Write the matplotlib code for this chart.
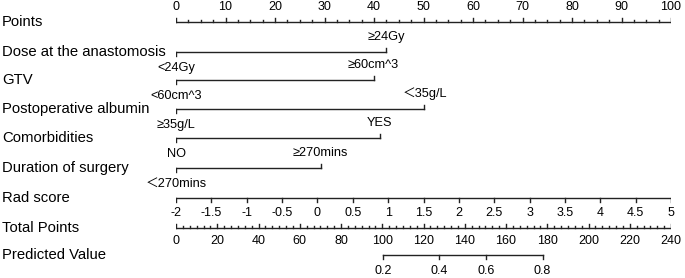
import numpy as np
import matplotlib
matplotlib.use('Agg')
import matplotlib.pyplot as plt
from matplotlib.transforms import blended_transform_factory

plt.rcParams['font.family'] = ['Liberation Sans', 'Noto Sans CJK SC', 'DejaVu Sans']

# nomogram content
row_names = ['Points', 'Dose at the anastomosis', 'GTV', 'Postoperative albumin',
             'Comorbidities', 'Duration of surgery', 'Rad score', 'Total Points',
             'Predicted Value']
row_y = [21.7, 51.7, 80, 109, 138, 168, 198, 228, 255]   # pixel rows

low_labels = ['<24Gy', '<60cm^3', '≥35g/L', 'NO', '＜270mins']
high_labels = ['≥24Gy', '≥60cm^3', '＜35g/L', 'YES', '≥270mins']
high_points = [42.4, 39.9, 50.2, 41.2, 29.2]

points_major = [0, 10, 20, 30, 40, 50, 60, 70, 80, 90, 100]
rad_ticks = [-2, -1.5, -1, -0.5, 0, 0.5, 1, 1.5, 2, 2.5, 3, 3.5, 4, 4.5, 5]
total_major = [0, 20, 40, 60, 80, 100, 120, 140, 160, 180, 200, 220, 240]
pred_values = [0.2, 0.4, 0.6, 0.8]
pred_total_points = [100.3, 127.7, 150.3, 177.7]

W, H = 685, 278
fig = plt.figure(figsize=(W / 100, H / 100), dpi=100)
ax = fig.add_axes([176 / W, 0, 495 / W, 1])
ax.set_xlim(0, 100)
ax.set_ylim(H, 0)
ax.axis('off')

col = '#222222'
lw = 1.0
fs_row = 10.7
fs_num = 9.0
fs_lvl = 9.2

lab_tr = blended_transform_factory(fig.transFigure, ax.transData)
for name, y in zip(row_names, row_y):
    ax.text(2 / W, y, name, transform=lab_tr, fontsize=fs_row, va='center', ha='left')


def rad_to_pts(r):
    return (r + 2) / 7 * 100


def tot_to_pts(t):
    return t / 240 * 100


# Points axis: ticks up, labels above
y = row_y[0]
ax.plot([0, 100], [y, y], color=col, lw=lw)
for v in np.arange(0, 100.01, 2.5):
    major = v in points_major
    ax.plot([v, v], [y, y - (4 if major else 2.2)], color=col, lw=lw)
for v in points_major:
    ax.text(v, y - 15, str(v), fontsize=fs_num, ha='center', va='center')

# two-level variables
for i in range(5):
    y = row_y[i + 1]
    hp = high_points[i]
    ax.plot([0, hp], [y, y], color=col, lw=lw)
    ax.plot([0, 0], [y, y + 4], color=col, lw=lw)
    ax.plot([hp, hp], [y, y - 4], color=col, lw=lw)
    ax.text(0, y + 16, low_labels[i], fontsize=fs_lvl, ha='center', va='center')
    ax.text(hp, y - 15, high_labels[i], fontsize=fs_lvl, ha='center', va='center')

# Rad score: ticks down, labels below
y = row_y[6]
ax.plot([rad_to_pts(rad_ticks[0]), rad_to_pts(rad_ticks[-1])], [y, y], color=col, lw=lw)
for r in rad_ticks:
    p = rad_to_pts(r)
    ax.plot([p, p], [y, y + 4], color=col, lw=lw)
    ax.text(p, y + 14.5, f'{r:g}', fontsize=fs_num, ha='center', va='center')

# Total points: ticks up, labels below
y = row_y[7]
ax.plot([0, 100], [y, y], color=col, lw=lw)
for t in np.linspace(0, 240, 73):
    major = any(abs(t - m) < 1e-6 for m in total_major)
    p = tot_to_pts(t)
    ax.plot([p, p], [y, y - (4 if major else 2.2)], color=col, lw=lw)
for t in total_major:
    ax.text(tot_to_pts(t), y + 13, str(t), fontsize=fs_num, ha='center', va='center')

# Predicted value: ticks down, labels below
y = row_y[8]
pp = [tot_to_pts(t) for t in pred_total_points]
ax.plot([pp[0], pp[-1]], [y, y], color=col, lw=lw)
for p, v in zip(pp, pred_values):
    ax.plot([p, p], [y, y + 4], color=col, lw=lw)
    ax.text(p, y + 16, f'{v:g}', fontsize=fs_num, ha='center', va='center')

fig.savefig('out.png', dpi=100)
